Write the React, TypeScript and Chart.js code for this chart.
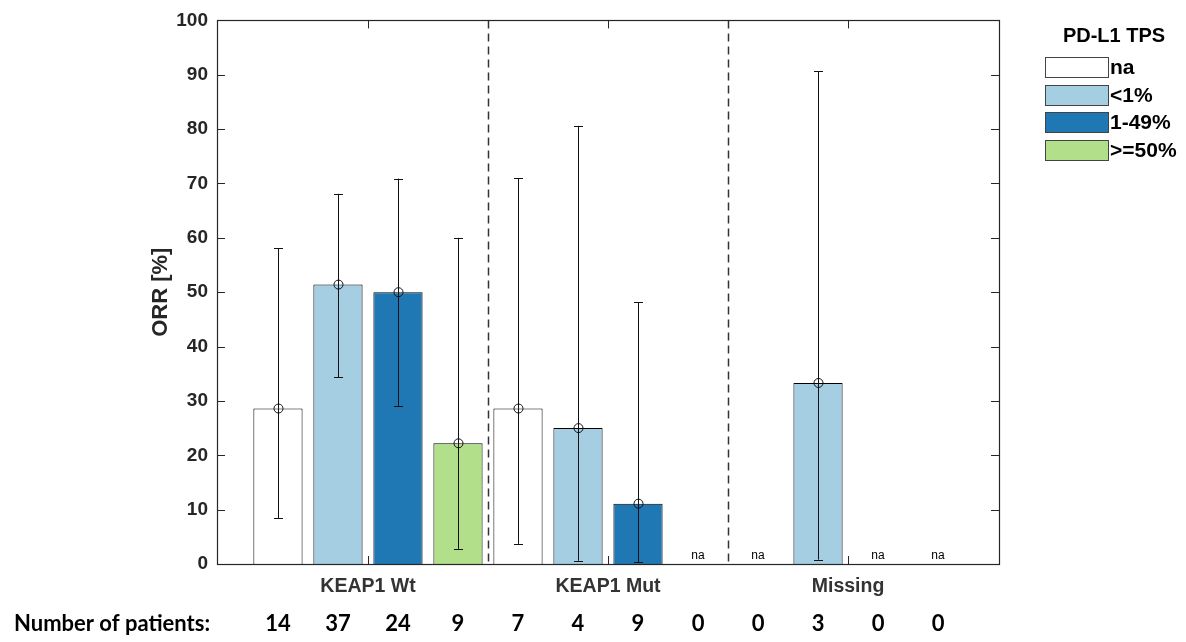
import React, { useEffect, useRef } from 'react';
import { Chart, registerables } from 'chart.js';

Chart.register(...registerables);

// ---------- data ----------
const groups = ['KEAP1 Wt', 'KEAP1 Mut', 'Missing'];
const tpsLevels = ['na', '<1%', '1-49%', '>=50%'];
const tpsColors = ['#ffffff', '#a6cee3', '#1f78b4', '#b2df8a'];

// ORR [%] per TPS level, one value per group (null = na)
const orrNa = [28.6, 28.6, null];
const orrLt1 = [51.4, 25.0, 33.3];
const orr1to49 = [50.0, 11.1, null];
const orrGe50 = [22.2, null, null];

// 95% CI lower / upper bounds
const lowNa = [8.4, 3.7, null];
const lowLt1 = [34.4, 0.6, 0.8];
const low1to49 = [29.1, 0.3, null];
const lowGe50 = [2.8, null, null];
const highNa = [58.1, 71.0, null];
const highLt1 = [68.1, 80.6, 90.6];
const high1to49 = [70.9, 48.2, null];
const highGe50 = [60.0, null, null];

// number of patients
const nNa = [14, 7, 0];
const nLt1 = [37, 4, 3];
const n1to49 = [24, 9, 0];
const nGe50 = [9, 0, 0];

const yTicks = [0, 10, 20, 30, 40, 50, 60, 70, 80, 90, 100];

const orr = [orrNa, orrLt1, orr1to49, orrGe50];
const lows = [lowNa, lowLt1, low1to49, lowGe50];
const highs = [highNa, highLt1, high1to49, highGe50];
const counts = [nNa, nLt1, n1to49, nGe50];

const slotX = (g: number, i: number) => g + 1 + (i - 1.5) * 0.25;

const FONT = '"Liberation Sans", Arial, sans-serif';
const AXIS = '#262626';

const overlay = {
  id: 'overlay',
  afterDatasetsDraw(chart: any) {
    const { ctx, chartArea: a, scales } = chart;
    const xs = scales.x;
    const ys = scales.y;
    ctx.save();

    // dashed separators
    ctx.strokeStyle = '#333';
    ctx.lineWidth = 1.5;
    ctx.setLineDash([8, 5]);
    for (let g = 1; g < groups.length; g++) {
      const px = Math.round(xs.getPixelForValue(g + 0.5)) + 0.5;
      ctx.beginPath();
      ctx.moveTo(px, a.top);
      ctx.lineTo(px, a.bottom);
      ctx.stroke();
    }
    ctx.setLineDash([]);

    // error bars + markers + na
    for (let i = 0; i < tpsLevels.length; i++) {
      for (let g = 0; g < groups.length; g++) {
        const cx = xs.getPixelForValue(slotX(g, i));
        const v = orr[i][g];
        if (v === null) {
          ctx.fillStyle = '#000';
          ctx.font = `12px ${FONT}`;
          ctx.textAlign = 'center';
          ctx.textBaseline = 'middle';
          ctx.fillText('na', cx, a.bottom - 8);
          continue;
        }
        const px = Math.round(cx) + 0.5;
        const pl = ys.getPixelForValue(lows[i][g] as number);
        const ph = ys.getPixelForValue(highs[i][g] as number);
        const pv = ys.getPixelForValue(v);
        ctx.strokeStyle = '#111';
        ctx.lineWidth = 1;
        ctx.beginPath();
        ctx.moveTo(px, pl);
        ctx.lineTo(px, ph);
        ctx.moveTo(px - 4.5, Math.round(pl) + 0.5);
        ctx.lineTo(px + 4.5, Math.round(pl) + 0.5);
        ctx.moveTo(px - 4.5, Math.round(ph) + 0.5);
        ctx.lineTo(px + 4.5, Math.round(ph) + 0.5);
        ctx.stroke();
        ctx.beginPath();
        ctx.arc(px, pv, 4.5, 0, Math.PI * 2);
        ctx.stroke();
      }
    }

    // axes box
    ctx.strokeStyle = AXIS;
    ctx.lineWidth = 1.2;
    ctx.strokeRect(Math.round(a.left) + 0.5, Math.round(a.top) + 0.5, Math.round(a.right - a.left), Math.round(a.bottom - a.top));

    // y ticks (inside, both sides)
    ctx.lineWidth = 1;
    ctx.beginPath();
    yTicks.forEach((t) => {
      const py = Math.round(ys.getPixelForValue(t)) + 0.5;
      ctx.moveTo(a.left, py);
      ctx.lineTo(a.left + 8, py);
      ctx.moveTo(a.right, py);
      ctx.lineTo(a.right - 8, py);
    });
    // x ticks (inside, top and bottom)
    groups.forEach((_, g) => {
      const px = Math.round(xs.getPixelForValue(g + 1)) + 0.5;
      ctx.moveTo(px, a.bottom);
      ctx.lineTo(px, a.bottom - 8);
      ctx.moveTo(px, a.top);
      ctx.lineTo(px, a.top + 8);
    });
    ctx.stroke();
    ctx.restore();
  },
  afterDraw(chart: any) {
    const { ctx, chartArea: a, scales } = chart;
    const xs = scales.x;
    ctx.save();

    // y title
    ctx.fillStyle = AXIS;
    ctx.font = `bold 22px ${FONT}`;
    ctx.textAlign = 'center';
    ctx.textBaseline = 'middle';
    ctx.translate(161, (a.top + a.bottom) / 2);
    ctx.rotate(-Math.PI / 2);
    ctx.fillText('ORR [%]', 0, 0);
    ctx.setTransform(1, 0, 0, 1, 0, 0);

    // legend
    ctx.fillStyle = '#000';
    ctx.font = `bold 20px ${FONT}`;
    ctx.textAlign = 'center';
    ctx.fillText('PD-L1 TPS', 1114, 36);
    tpsLevels.forEach((lab, i) => {
      const top = 57 + i * 27.5;
      ctx.fillStyle = tpsColors[i];
      ctx.fillRect(1045.5, Math.round(top) + 0.5, 63, 20);
      ctx.strokeStyle = '#444';
      ctx.lineWidth = 1;
      ctx.strokeRect(1045.5, Math.round(top) + 0.5, 63, 20);
      ctx.fillStyle = '#000';
      ctx.textAlign = 'left';
      ctx.textBaseline = 'middle';
      ctx.font = `bold 21px ${FONT}`;
      ctx.fillText(lab, 1110, Math.round(top) + 11);
    });

    // number of patients row
    ctx.fillStyle = '#000';
    ctx.font = `bold 22px Lato, "Open Sans", sans-serif`;
    ctx.textBaseline = 'middle';
    ctx.textAlign = 'left';
    ctx.fillText('Number of patients:', 14, 624);
    ctx.textAlign = 'center';
    for (let g = 0; g < groups.length; g++) {
      for (let i = 0; i < tpsLevels.length; i++) {
        ctx.fillText(String(counts[i][g]), xs.getPixelForValue(slotX(g, i)), 624);
      }
    }
    ctx.restore();
  },
};

export default function App() {
  const ref = useRef<HTMLCanvasElement | null>(null);
  useEffect(() => {
    if (!ref.current) return;
    const chart = new Chart(ref.current, {
      type: 'bar',
      data: {
        datasets: tpsLevels.map((lab, i) => ({
          label: lab,
          data: groups.map((_, g) => ({ x: slotX(g, i), y: orr[i][g] })) as any,
          backgroundColor: tpsColors[i],
          borderColor: '#000',
          borderWidth: 1,
          grouped: false,
          barPercentage: 0.82,
          categoryPercentage: 1,
        })),
      },
      plugins: [overlay],
      options: {
        animation: false,
        responsive: false,
        devicePixelRatio: 1,
        layout: { padding: { left: 0, top: 16, right: 187, bottom: 0 } },
        plugins: { legend: { display: false }, tooltip: { enabled: false } },
        scales: {
          x: {
            type: 'linear',
            offset: false,
            min: 0.371,
            max: 3.629,
            afterBuildTicks: (s: any) => {
              s.ticks = groups.map((_, g) => ({ value: g + 1 }));
            },
            afterFit: (s: any) => {
              s.height = 78;
            },
            grid: { display: false, drawTicks: false },
            border: { display: false },
            ticks: {
              autoSkip: false,
              maxRotation: 0,
              padding: 11,
              color: '#333',
              font: { family: FONT, size: 19.5, weight: 'bold' },
              callback: (v: any) => groups[Math.round(v) - 1] ?? '',
            },
          },
          y: {
            min: 0,
            max: 100,
            afterBuildTicks: (s: any) => {
              s.ticks = yTicks.map((t) => ({ value: t }));
            },
            afterFit: (s: any) => {
              s.width = 217;
            },
            grid: { display: false, drawTicks: false },
            border: { display: false },
            ticks: {
              padding: 9,
              color: AXIS,
              font: { family: FONT, size: 19, weight: 'bold' },
            },
          },
        },
      } as any,
    });
    return () => chart.destroy();
  }, []);
  return (
    <div style={{ position: 'absolute', left: 0, top: 0, width: 1186, height: 642, background: '#fff' }}>
      <canvas ref={ref} width={1186} height={642} />
    </div>
  );
}
